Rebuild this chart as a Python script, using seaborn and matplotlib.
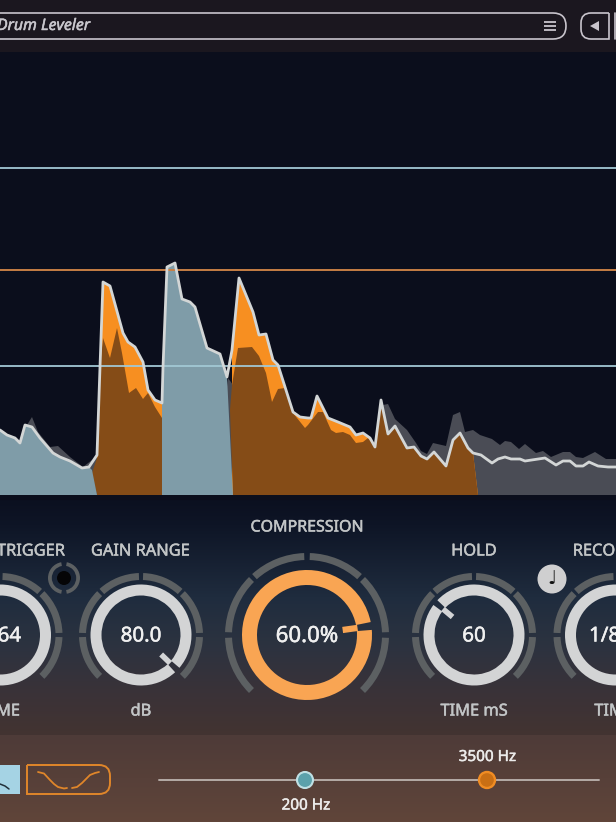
import numpy as np
import matplotlib
matplotlib.use("Agg")
import matplotlib.pyplot as plt
import matplotlib.patheffects as pe
from matplotlib.path import Path
from matplotlib.patches import Wedge, Circle, FancyBboxPatch, Rectangle, Polygon, PathPatch
from matplotlib.colors import LinearSegmentedColormap
import seaborn as sns

# ---------- data ----------
env_x = [0,7,15,20,25,32,40,53,60,70,82,89,97,100,103,110,123,128,135,143,148,155,162,163,167,175,182,190,195,207,220,227,232,239,253,259,266,273,278,293,300,308,311,317,328,338,350,356,363,370,375,381,388,395,407,414,421,427,434,446,453,460,468,473,481,492,498,505,511,520,525,545,556,563,570,576,583,589,598,608,616]
env_level = [65,60,57,52,70,68,57,42,38,34,27,28,40,128,213,209,162,153,148,133,105,95,92,128,228,232,196,193,188,147,141,118,145,217,183,160,161,135,130,83,78,77,77,99,77,73,68,60,62,57,48,95,61,69,47,48,39,36,43,29,55,62,47,42,40,32,36,38,36,36,34,37,30,34,34,29,29,33,29,28,28]

input_x = [0,7,15,20,27,32,38,50,58,70,83,92,97,163,226,228,233,300,350,375,383,388,395,407,416,421,427,433,446,453,460,465,473,480,492,500,505,511,519,525,536,543,551,563,570,576,583,595,606,616]
input_level = [65,60,57,52,70,78,63,48,49,38,28,35,38,38,100,117,110,70,40,48,90,91,76,65,52,44,41,52,49,80,83,63,65,60,56,50,54,53,46,51,42,44,38,43,43,38,37,43,36,36]

gain1_x = [97,92,98,100,103,110,117,122,129,136,143,148,155,162,162]
gain1_level = [0,22,40,128,157,137,167,142,102,107,96,102,88,77,0]
gain2_x = [233,230,232,238,252,259,266,272,278,285,293,305,308,318,323,331,336,343,350,356,363,368,375,381,388,395,407,414,421,427,434,446,453,460,468,473,478]
gain2_level = [0,85,110,147,148,139,122,93,106,107,82,67,70,83,83,65,62,63,60,52,53,57,48,95,61,69,47,48,39,36,43,29,55,62,47,42,0]

threshold_levels = [327, 129]
ceiling_level = 225

knob_labels_top = ["TRIGGER", "GAIN RANGE", "COMPRESSION", "HOLD", "RECO"]
knob_labels_bottom = ["ME", "dB", "TIME mS", "TIM"]
knob_values = ["64", "80.0", "60.0%", "60", "1/8"]
freq_labels = ["200 Hz", "3500 Hz"]
preset_name = "Drum Leveler"

# ---------- style ----------
sns.set_theme(style="dark")
plt.rcParams["font.family"] = ["Noto Sans", "DejaVu Sans"]

BG_HEAD = "#1b171f"; BG_CHART = "#0b0e1c"
GREY = "#4a4c55"; ORANGE = "#f78f21"; BROWN = "#854c17"; BLUE = "#7f9ca8"
LINE = "#d3d6d6"; REF_BLUE = "#a2c8d4"; REF_OR = "#c77f45"
ARC = "#5c6062"; RING = "#d3d4d5"; RING_OR = "#f9a553"; LABEL = "#c2c5c6"
BTN = "#e0862a"

fig = plt.figure(figsize=(6.16, 8.22), dpi=100)
ui = fig.add_axes([0, 0, 1, 1])
ui.set_xlim(0, 616); ui.set_ylim(0, 822); ui.axis("off")
Y = lambda y: 822 - y

def label(x, y, s, color=LABEL, size=11.8, ha="center", **kw):
    t = ui.text(x, Y(y), s, color=color, fontsize=size, ha=ha, va="center", zorder=6, **kw)
    t.set_path_effects([pe.withStroke(linewidth=0.35, foreground=color)])
    return t

# panels
ui.add_patch(Rectangle((0, Y(52)), 616, 52, fc=BG_HEAD, ec="none"))
ui.add_patch(Rectangle((0, Y(500)), 616, 448, fc=BG_CHART, ec="none"))
c_mid = LinearSegmentedColormap.from_list("m", [(0, "#0b0f1f"), (.12, "#0e1526"), (.42, "#1f2c3e"), (.62, "#2c3340"), (.82, "#3a3238"), (1, "#433431")])
ui.imshow(np.linspace(0, 1, 256)[:, None], cmap=c_mid, aspect="auto", extent=(0, 616, Y(736), Y(497)), origin="upper", zorder=0)
c_bot = LinearSegmentedColormap.from_list("b", ["#4e3b38", "#60453a"])
ui.imshow(np.linspace(0, 1, 64)[:, None], cmap=c_bot, aspect="auto", extent=(0, 616, Y(822), Y(736)), origin="upper", zorder=0)
ui.set_xlim(0, 616); ui.set_ylim(0, 822)

# header
ui.add_patch(FancyBboxPatch((-30, Y(39)), 596, 26, boxstyle="round,pad=0,rounding_size=13", fc="none", ec="#c8c4cc", lw=1.2))
label(-3, 26, preset_name, color="#c8c6cc", size=11.4, ha="left", style="italic")
for yy in (22, 26, 30):
    ui.plot([544, 556], [Y(yy), Y(yy)], color="#c8c4cc", lw=1.3, solid_capstyle="butt")
ui.add_patch(PathPatch(Path(
    [(609, Y(13)), (591, Y(13)), (581, Y(13)), (581, Y(23)), (581, Y(29)), (581, Y(39)), (591, Y(39)), (609, Y(39)), (609, Y(13))],
    [Path.MOVETO, Path.LINETO, Path.CURVE3, Path.CURVE3, Path.LINETO, Path.CURVE3, Path.CURVE3, Path.LINETO, Path.LINETO]),
    fc="none", ec="#c8c4cc", lw=1.2))
ui.plot([615, 615], [Y(13), Y(39)], color="#c8c4cc", lw=1.2)
ui.add_patch(Polygon([(590, Y(26)), (599, Y(21)), (599, Y(31))], fc="#c8c4cc", ec="none"))

# ---------- waveform ----------
ax = fig.add_axes([0, (822 - 495) / 822, 1, 443 / 822], facecolor=BG_CHART)
ax.patch.set_alpha(0)
ex = np.array(env_x); el = np.array(env_level)
ax.fill_between(input_x, input_level, 0, color=GREY, lw=0)
m1 = (ex >= 97) & (ex <= 162)
m2 = (ex >= 232) & (ex <= 473)
ax.fill(np.r_[97, ex[m1], 162], np.r_[0, el[m1], 0], color=ORANGE, lw=0)
ax.fill(np.r_[232, ex[m2], 478], np.r_[0, el[m2], 0], color=ORANGE, lw=0)
ax.fill(gain1_x, gain1_level, color=BROWN, lw=0)
ax.fill(gain2_x, gain2_level, color=BROWN, lw=0)
b1 = ex <= 89
b2 = (ex >= 162) & (ex <= 227)
ax.fill(np.r_[0, ex[b1], 92, 97], np.r_[0, el[b1], 25, 0], color=BLUE, lw=0)
ax.fill(np.r_[162, ex[b2], 233], np.r_[0, el[b2], 0], color=BLUE, lw=0)
for lv in threshold_levels:
    ax.axhline(lv, color=REF_BLUE, lw=1.3)
ax.axhline(ceiling_level, color=REF_OR, lw=1.4)
sns.lineplot(x=env_x, y=env_level, ax=ax, color=LINE, lw=2.0, estimator=None, sort=False, legend=False)
ax.set_xlim(0, 616); ax.set_ylim(0, 443)
ax.set_xlabel(""); ax.set_ylabel(""); ax.set_xticks([]); ax.set_yticks([])
for s in ax.spines.values():
    s.set_visible(False)

# ---------- knobs ----------
SEGS = [(-45, -2), (2, 45), (48, 88), (92, 132), (135, 178), (182, 225)]

def knob(cx, cy, r_out, r_in, arc_in, arc_out, ptr=None, gap=6, ptr_in=28, ring=RING, ptr_w=4):
    cy = Y(cy)
    for a, b in SEGS:
        ui.add_patch(Wedge((cx, cy), arc_out, a, b, width=arc_out - arc_in, fc=ARC, ec="none", zorder=3))
    if ptr is None:
        ui.add_patch(Wedge((cx, cy), r_out, 0, 360, width=r_out - r_in, fc=ring, ec="none", zorder=3))
    else:
        ui.add_patch(Wedge((cx, cy), r_out, ptr + gap / 2, ptr - gap / 2 + 360, width=r_out - r_in, fc=ring, ec="none", zorder=3))
        t = np.deg2rad(ptr)
        ui.plot([cx + ptr_in * np.cos(t), cx + (r_in + 1) * np.cos(t)],
                [cy + ptr_in * np.sin(t), cy + (r_in + 1) * np.sin(t)],
                color=ring, lw=ptr_w, solid_capstyle="butt", zorder=4)

knob(0.5, 635, 50.5, 39.5, 55, 62)
knob(141, 635, 50.5, 39.5, 55, 62, ptr=-44, gap=7)
knob(307, 635, 65, 50, 75, 82, ptr=8, gap=7, ptr_in=36, ring=RING_OR, ptr_w=4.5)
knob(474, 635, 50.5, 39.5, 55, 62, ptr=140, gap=7)
knob(615.5, 635, 50.5, 39.5, 55, 62)

for txt, x, y in zip(knob_labels_top, [31, 140.5, 307, 474, 594], [551.5, 551.5, 527.5, 551.5, 551.5]):
    label(x, y, txt, size=11.5 if txt == "COMPRESSION" else 11.8)
for txt, x in zip(knob_labels_bottom, [8, 141, 474, 609]):
    label(x, 711.5, txt)
VAL = "#f0f0f0"
label(21, 636.5, knob_values[0], color=VAL, size=14.8, ha="right")
label(141, 636.5, knob_values[1], color=VAL, size=14.8)
label(307, 636.5, knob_values[2], color=VAL, size=16)
label(474, 636.5, knob_values[3], color=VAL, size=14.8)
label(589, 636.5, knob_values[4], color=VAL, size=14.8, ha="left")

# trigger jack
for a, b in [(100, 260), (-80, 80)]:
    ui.add_patch(Wedge((64, Y(578)), 16, a, b, width=3.8, fc=ARC, ec="none", zorder=5))
ui.add_patch(Circle((64, Y(578)), 7, fc="#050507", ec="none", zorder=5))

# note button
ui.add_patch(Circle((552, Y(579)), 14.5, fc="#cfcfd0", ec="none", zorder=6))
ui.text(552, Y(579), "\u2669", color="#111", fontsize=14, ha="center", va="center", family=["DejaVu Sans"], zorder=7)

# filter buttons
ui.add_patch(Rectangle((-2, Y(794)), 22, 29, fc="#a5d3e4", ec="none", zorder=3))
ui.plot([0, 5, 9], [Y(784), Y(786), Y(789)], color="#22303a", lw=1.1, zorder=4)
ui.add_patch(PathPatch(Path(
    [(27, Y(765)), (99, Y(765)), (110, Y(765)), (110, Y(776)), (110, Y(783)), (110, Y(794)), (99, Y(794)), (27, Y(794)), (27, Y(765))],
    [Path.MOVETO, Path.LINETO, Path.CURVE3, Path.CURVE3, Path.LINETO, Path.CURVE3, Path.CURVE3, Path.LINETO, Path.LINETO]),
    fc="none", ec=BTN, lw=1.4, zorder=3))
ui.plot([38, 44, 50, 54, 58, 64, 67], [Y(772), Y(773.5), Y(780), Y(784), Y(787), Y(788.5), Y(788)], color=BTN, lw=1.3, zorder=4)
ui.plot([72, 77, 82, 86, 90, 95, 99], [Y(788), Y(787), Y(783), Y(779), Y(775), Y(773), Y(772)], color=BTN, lw=1.3, zorder=4)

# slider
ui.plot([159, 599], [Y(780), Y(780)], color="#b5aba6", lw=1.4, zorder=3)
ui.add_patch(Circle((305, Y(780)), 8, fc="#5ba1ab", ec="#bfe0e4", lw=1.5, zorder=4))
ui.add_patch(Circle((487, Y(780)), 8, fc="#c96f14", ec="#f08c23", lw=1.7, zorder=4))
label(306, 806, freq_labels[0], color="#ecebea", size=11)
label(487.5, 757.5, freq_labels[1], color="#ecebea", size=11)

fig.savefig("out.png", dpi=100)
